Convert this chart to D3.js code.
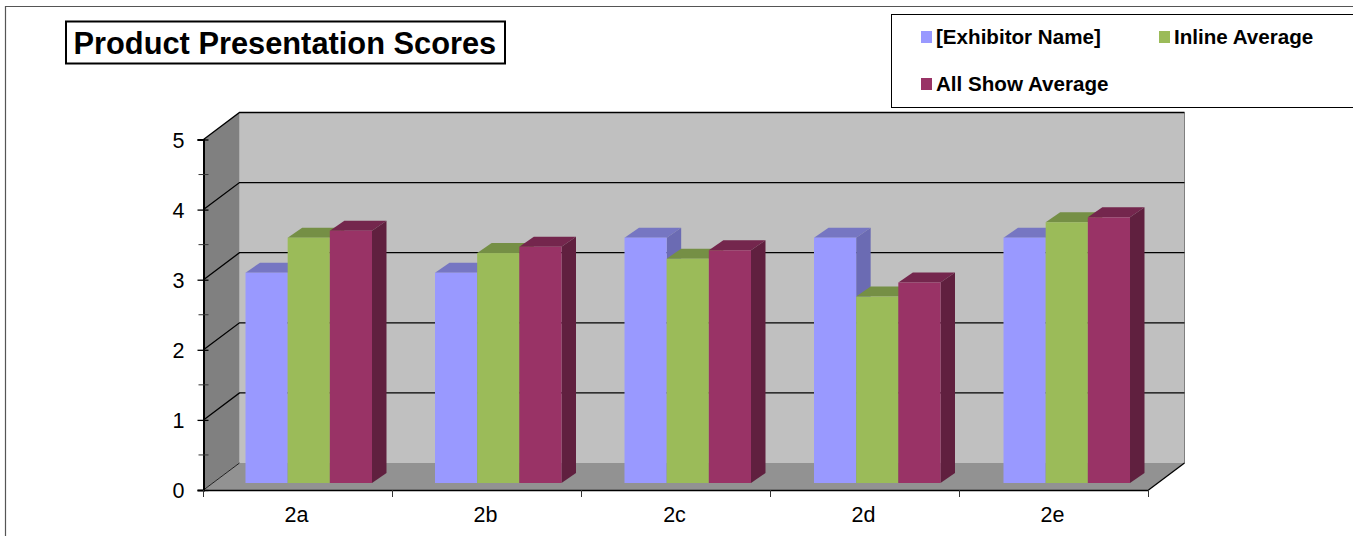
<!DOCTYPE html>
<html>
<head>
<meta charset="utf-8">
<script src="https://cdn.jsdelivr.net/npm/d3@7"></script>
<style>
  html, body { margin: 0; padding: 0; background: #fff; overflow: hidden; }
  text { font-family: "Liberation Sans", Arial, sans-serif; fill: #000; }
</style>
</head>
<body>
<div id="chart"></div>
<script>
const categories = ["2a", "2b", "2c", "2d", "2e"];
const seriesNames = ["[Exhibitor Name]", "Inline Average", "All Show Average"];
const exhibitor = [3.0, 3.0, 3.5, 3.5, 3.5];
const inlineAvg = [3.5, 3.28, 3.2, 2.66, 3.72];
const allShowAvg = [3.6, 3.37, 3.32, 2.86, 3.79];
const yTicks = [0, 1, 2, 3, 4, 5];
const yMinorTicks = [0.5, 1.5, 2.5, 3.5, 4.5];

const seriesValues = [exhibitor, inlineAvg, allShowAvg];
const frontColors = ["#9999ff", "#9bbb59", "#993366"];
const topColors = ["#7676c2", "#758f45", "#74264d"];
const sideColors = ["#6b6bb3", "#6c8540", "#60203f"];

const width = 1353;
const height = 536;

// front plane of the plot box and the depth shift to the back wall
const left = 203.5, right = 1148.5, bottom = 490, top5 = 139.5;
const depthX = 36, depthY = -27;
// bars stand a little inside the floor
const barLift = 7, barDepthX = 14.5, barDepthY = -10;

const svg = d3.select("#chart")
  .append("svg")
  .attr("width", width)
  .attr("height", height)
  .style("display", "block");

// outer frame, cut by the window on the right and bottom
svg.append("path")
  .attr("d", `M5.5,${height}V6.5H${width}`)
  .attr("fill", "none")
  .attr("stroke", "#555")
  .attr("stroke-width", 1.2);

const x = d3.scaleBand().domain(categories).range([left, right]);
const y = d3.scaleLinear().domain([0, 5]).range([bottom, top5]);

// bars sit on a slightly wider step than the axis bands
const barGroupX = d3.scaleBand().domain(categories).range([245.5, 245.5 + 5 * 189.5]);
const barX = d3.scaleBand()
  .domain(d3.range(seriesNames.length))
  .range([0, 126.5]);

const poly = pts => pts.map(p => p.join(",")).join(" ");

// walls
svg.append("polygon")
  .attr("points", poly([[left + depthX, y(5) + depthY], [right + depthX, y(5) + depthY],
                        [right + depthX, y(0) + depthY], [left + depthX, y(0) + depthY]]))
  .attr("fill", "#c0c0c0");
svg.append("polygon")
  .attr("points", poly([[left, y(5)], [left + depthX, y(5) + depthY],
                        [left + depthX, y(0) + depthY], [left, y(0)]]))
  .attr("fill", "#808080");
svg.append("polygon")
  .attr("points", poly([[left, y(0)], [left + depthX, y(0) + depthY],
                        [right + depthX, y(0) + depthY], [right, y(0)]]))
  .attr("fill", "#929292");

// right edge of back wall
svg.append("line")
  .attr("x1", right + depthX).attr("x2", right + depthX)
  .attr("y1", y(5) + depthY).attr("y2", y(0) + depthY)
  .attr("stroke", "#808080");

// gridlines, running across the side wall and then the back wall
svg.append("g").selectAll("path")
  .data(yTicks)
  .enter().append("path")
  .attr("d", d => d === 0
    ? `M${left},${y(d)}L${left + depthX},${y(d) + depthY}`
    : `M${left},${y(d)}L${left + depthX},${y(d) + depthY}H${right + depthX}`)
  .attr("fill", "none")
  .attr("stroke", "#000")
  .attr("stroke-width", d => d === 0 ? 0.8 : 1.3);

// floor right edge
svg.append("line")
  .attr("x1", right).attr("y1", y(0))
  .attr("x2", right + depthX).attr("y2", y(0) + depthY)
  .attr("stroke", "#000")
  .attr("stroke-width", 1.3);

// bars
const groups = svg.append("g").selectAll("g")
  .data(categories)
  .enter().append("g");

groups.each(function(cat, c) {
  const g = d3.select(this);
  seriesValues.forEach((vals, s) => {
    const x0 = barGroupX(cat) + barX(s);
    const x1 = x0 + barX.bandwidth();
    const yt = y(vals[c]) - barLift;
    const yb = y(0) - barLift;
    g.append("polygon")
      .attr("points", poly([[x0, yt], [x0 + barDepthX, yt + barDepthY],
                            [x1 + barDepthX, yt + barDepthY], [x1, yt]]))
      .attr("fill", topColors[s]);
    g.append("polygon")
      .attr("points", poly([[x1, yt], [x1 + barDepthX, yt + barDepthY],
                            [x1 + barDepthX, yb + barDepthY], [x1, yb]]))
      .attr("fill", sideColors[s]);
    g.append("rect")
      .attr("x", x0)
      .attr("y", yt)
      .attr("width", barX.bandwidth())
      .attr("height", yb - yt)
      .attr("fill", frontColors[s]);
  });
});

// axes
const yAxis = d3.axisLeft(y).tickValues(yTicks).tickFormat(d3.format("d")).tickPadding(10);
const yAxisG = svg.append("g")
  .attr("transform", `translate(${left},0)`)
  .call(yAxis);
yAxisG.selectAll(".tick line").attr("x1", -6).attr("x2", 5).attr("stroke-width", 1.3);
yAxisG.select(".domain").attr("stroke-width", 2);
yAxisG.selectAll("text").style("font-size", "21.5px").attr("x", -19).attr("dy", "0.36em");

svg.append("g").selectAll("line")
  .data(yMinorTicks)
  .enter().append("line")
  .attr("x1", left - 5).attr("x2", left + 5)
  .attr("y1", d => y(d)).attr("y2", d => y(d))
  .attr("stroke", "#333");

const xAxis = d3.axisBottom(x).tickSize(0).tickPadding(17);
const xAxisG = svg.append("g")
  .attr("transform", `translate(-1.5,${bottom})`)
  .call(xAxis);
xAxisG.select(".domain").attr("transform", "translate(1.5,0)").attr("stroke-width", 1.5);
xAxisG.selectAll("text").style("font-size", "21.5px");

svg.append("g").selectAll("line")
  .data(categories.map(c => x(c)).concat([right]))
  .enter().append("line")
  .attr("x1", d => d).attr("x2", d => d)
  .attr("y1", bottom).attr("y2", bottom + 7)
  .attr("stroke", "#333");

// title
svg.append("rect")
  .attr("x", 66).attr("y", 21.5)
  .attr("width", 439).attr("height", 42)
  .attr("fill", "#fff").attr("stroke", "#000").attr("stroke-width", 2);
svg.append("text")
  .attr("x", 73.5).attr("y", 54)
  .style("font-size", "30.8px").style("font-weight", "bold")
  .text("Product Presentation Scores");

// legend
svg.append("rect")
  .attr("x", 891.5).attr("y", 14.5)
  .attr("width", width).attr("height", 93)
  .attr("fill", "#fff").attr("stroke", "#000");

const legendCols = [921, 1159, 921];
const legendRows = [37, 37, 84];
const legendItems = svg.append("g").selectAll("g")
  .data(seriesNames)
  .enter().append("g")
  .attr("transform", (d, i) => `translate(${legendCols[i]},${legendRows[i]})`);
legendItems.append("rect")
  .attr("x", 0).attr("y", -6)
  .attr("width", 11).attr("height", 12)
  .attr("fill", (d, i) => frontColors[i]);
legendItems.append("text")
  .attr("x", 15).attr("y", 7)
  .style("font-size", "20.6px").style("font-weight", "bold")
  .text(d => d);
</script>
</body>
</html>
